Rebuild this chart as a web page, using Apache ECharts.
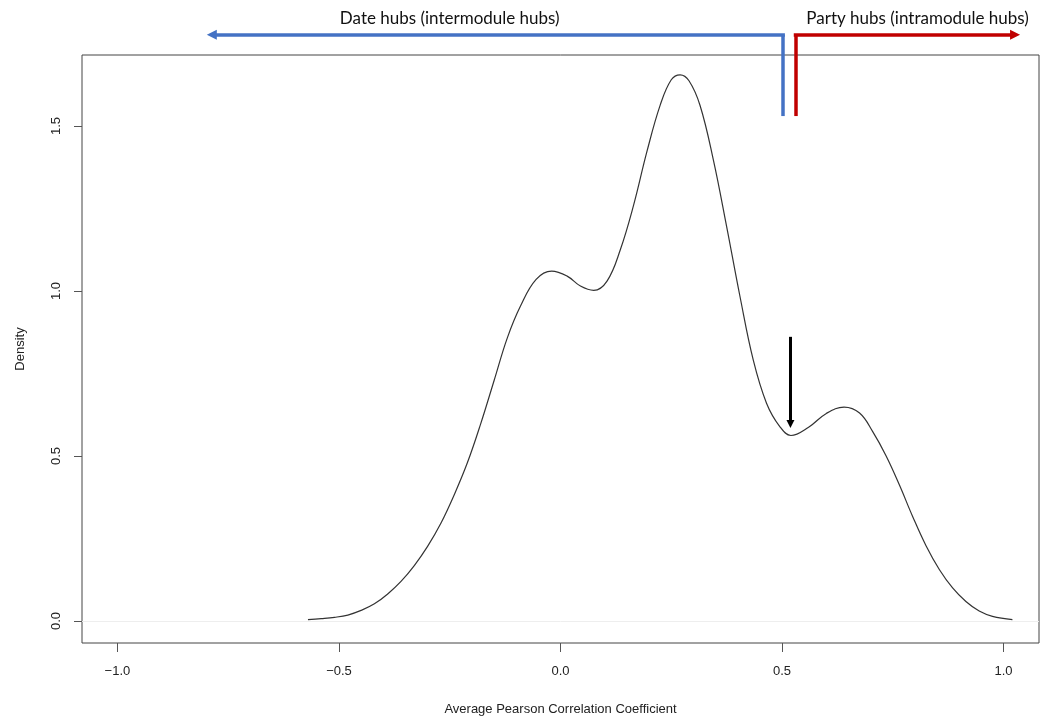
<!DOCTYPE html>
<html><head><meta charset="utf-8">
<script src="https://cdn.jsdelivr.net/npm/echarts@6/dist/echarts.min.js"></script>
<style>html,body{margin:0;padding:0;background:#fff}#c{width:1048px;height:718px}</style>
</head><body><div id="c"></div>
<script>
// Density curve (x = average Pearson correlation, y = density)
const densityX = [-0.57,-0.54,-0.51,-0.48,-0.45,-0.42,-0.39,-0.36,-0.33,-0.30,-0.27,-0.24,-0.21,-0.18,-0.15,-0.12,-0.09,-0.055,-0.02,0.015,0.045,0.075,0.105,0.135,0.165,0.195,0.225,0.250,0.270,0.290,0.315,0.345,0.375,0.405,0.435,0.465,0.495,0.520,0.560,0.600,0.640,0.675,0.705,0.735,0.765,0.795,0.825,0.855,0.885,0.915,0.945,0.975,1.02];
const densityY = [0.004,0.007,0.011,0.018,0.032,0.052,0.082,0.120,0.168,0.226,0.296,0.382,0.480,0.598,0.728,0.858,0.955,1.035,1.060,1.045,1.015,1.002,1.030,1.125,1.260,1.422,1.563,1.640,1.655,1.637,1.562,1.397,1.195,0.984,0.791,0.660,0.589,0.562,0.587,0.629,0.648,0.630,0.573,0.500,0.412,0.316,0.228,0.156,0.100,0.059,0.030,0.014,0.004];
const xTicks = [-1, -0.5, 0, 0.5, 1];
const yTicks = [0, 0.5, 1, 1.5];
const xRange = [-1.08, 1.08];
const yRange = [-0.0667, 1.715];
// Annotations (data coordinates)
const markerArrow = [[0.519, 0.861], [0.519, 0.597]];
const dateHubVertical = [[0.502, 1.530], [0.502, 1.776]];
const dateHubHorizontal = [[0.5065, 1.776], [-0.787, 1.776]];
const partyHubVertical = [[0.531, 1.530], [0.531, 1.776]];
const partyHubHorizontal = [[0.5265, 1.776], [1.026, 1.776]];
const hubLabels = [
  {text: 'Date hubs (intermodule hubs)', x: -0.25, y: 1.826, align: 'center'},
  {text: 'Party hubs (intramodule hubs)', x: 0.806, y: 1.826, align: 'center'}
];

const chart = echarts.init(document.getElementById('c'));
const fmt = v => (v < 0 ? '\u2212' : '') + Math.abs(v).toFixed(1);
const axisFont = {fontFamily: 'Liberation Sans', fontSize: 13, color: '#222'};

chart.setOption({
  animation: false,
  backgroundColor: '#fff',
  grid: {left: 82, right: 9, top: 55, bottom: 75, containLabel: false, outerBoundsMode: 'none',
         show: true, borderColor: '#444', borderWidth: 1, backgroundColor: 'transparent'},
  xAxis: {
    type: 'value', min: xRange[0], max: xRange[1],
    axisLine: {show: false, onZero: false},
    splitLine: {show: false},
    axisTick: {show: true, customValues: xTicks, length: 9, inside: false, lineStyle: {color: '#555'}},
    axisLabel: Object.assign({customValues: xTicks, formatter: fmt, margin: 22}, axisFont),
    name: 'Average Pearson Correlation Coefficient', nameLocation: 'middle', nameGap: 60,
    nameTextStyle: axisFont
  },
  yAxis: {
    type: 'value', min: yRange[0], max: yRange[1],
    axisLine: {show: false, onZero: false},
    splitLine: {show: false},
    axisTick: {show: true, customValues: yTicks, length: 8, lineStyle: {color: '#555'}},
    axisLabel: Object.assign({customValues: yTicks, formatter: v => v.toFixed(1), rotate: 90, margin: 19}, axisFont),
    name: 'Density', nameLocation: 'middle', nameGap: 55,
    nameTextStyle: axisFont
  },
  series: [
    {
      type: 'line', data: densityX.map((x, i) => [x, densityY[i]]),
      smooth: 0.4, showSymbol: false, symbol: 'none',
      lineStyle: {color: '#333', width: 1.2},
      markLine: {
        silent: true, symbol: 'none', label: {show: false},
        lineStyle: {color: '#eeeeee', width: 1, type: 'solid'},
        data: [[{coord: [xRange[0], 0]}, {coord: [xRange[1], 0]}]]
      },
      z: 3
    },
    {
      type: 'lines', coordinateSystem: 'cartesian2d', clip: false, silent: true,
      symbol: ['none', 'triangle'], symbolSize: 8,
      lineStyle: {color: '#000', width: 3, opacity: 1},
      data: [{coords: markerArrow}], z: 4
    },
    {
      type: 'lines', coordinateSystem: 'cartesian2d', clip: false, silent: true,
      symbol: 'none',
      lineStyle: {width: 3.5, opacity: 1},
      data: [
        {coords: dateHubVertical, lineStyle: {color: '#4472C4'}},
        {coords: partyHubVertical, lineStyle: {color: '#C00000'}}
      ], z: 4
    },
    {
      type: 'lines', coordinateSystem: 'cartesian2d', clip: false, silent: true,
      symbol: ['none', 'triangle'], symbolSize: 10,
      lineStyle: {width: 3.5, opacity: 1},
      data: [
        {coords: dateHubHorizontal, lineStyle: {color: '#4472C4'}, itemStyle: {color: '#4472C4'}},
        {coords: partyHubHorizontal, lineStyle: {color: '#C00000'}, itemStyle: {color: '#C00000'}}
      ], z: 4
    }
  ]
});

const texts = hubLabels.map(l => {
  const p = chart.convertToPixel({xAxisIndex: 0, yAxisIndex: 0}, [l.x, l.y]);
  return {type: 'text', x: p[0], y: p[1], style: {text: l.text, fontFamily: 'Lato', fontSize: 17, fill: '#111', textAlign: l.align, textVerticalAlign: 'middle'}};
});
chart.setOption({graphic: texts});
</script>
</body></html>
